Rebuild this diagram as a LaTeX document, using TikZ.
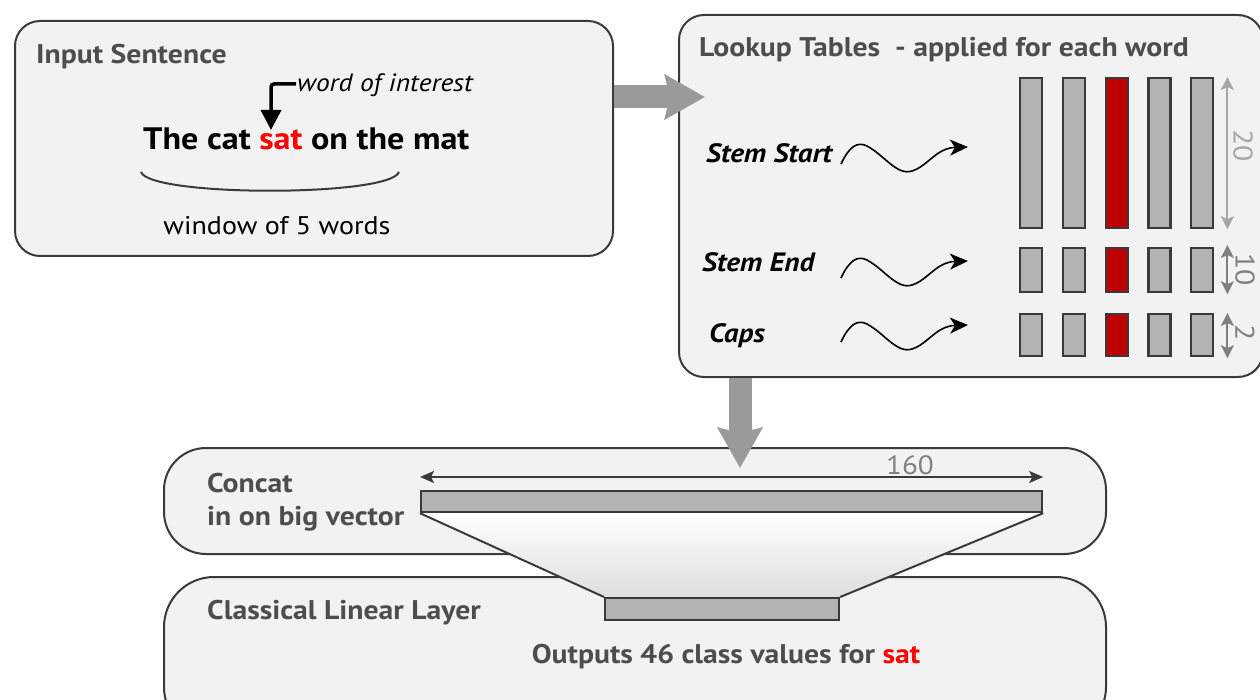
\documentclass[tikz,border=0pt]{standalone}
\usepackage{fontspec}
\setmainfont{PT Sans}[FakeStretch=1.1]
\usetikzlibrary{arrows.meta,calc}
\definecolor{panelfill}{HTML}{F2F2F2}
\definecolor{edge}{HTML}{3A3A3A}
\definecolor{headgray}{HTML}{4D4D4D}
\definecolor{barfill}{HTML}{B3B3B3}
\definecolor{barred}{HTML}{C00000}
\definecolor{hot}{HTML}{FF0000}
\definecolor{flow}{HTML}{9A9A9A}
\definecolor{dimlight}{HTML}{A6A6A6}
\definecolor{dimdark}{HTML}{808080}
\newcommand{\fs}[1]{\fontsize{#1}{#1}\selectfont}
\begin{document}
\begin{tikzpicture}[x=1pt,y=-1pt,
  panel/.style={draw=edge, line width=2pt, fill=panelfill, rounded corners=#1, inner sep=0pt, anchor=north west},
  panel/.default=25pt,
  heading/.style={text=headgray, font=\fs{27}\bfseries, anchor=base west, inner sep=0pt},
  rowlabel/.style={font=\fs{26.5}\bfseries\itshape, anchor=base west, inner sep=0pt},
  bar/.style={draw=edge, line width=2.2pt, fill=barfill, minimum width=22pt, inner sep=0pt, anchor=north west},
  fat/.style={draw=flow, line width=23pt, -{Stealth[length=40pt,width=44pt,inset=5pt]}},
  squig/.style={line width=1.6pt, -{Stealth[length=18pt,width=16pt,inset=5pt]}},
  dimline/.style={line width=2pt, {Stealth[length=13pt,width=13pt,inset=3pt]}-{Stealth[length=13pt,width=13pt,inset=3pt]}},
  dimtext/.style={font=\fs{27}, inner sep=0pt, rotate=-90}
]
\useasboundingbox (0,0) rectangle (1260,700);
\clip (0,0) rectangle (1260,700);

% ---------- input sentence panel ----------
\node[panel, minimum width=598pt, minimum height=235pt] (inp) at (14,20) {};
\node[heading] (inptitle) at (36,64) {Input Sentence};
\node[font=\fs{31}\bfseries, anchor=base west, inner sep=0pt] (sent) at (143,150)
  {The cat \textcolor{hot}{sat} on the mat};
\node[font=\fs{25}\itshape, anchor=base west, inner sep=0pt] (woi) at (297,92) {word of interest};
\coordinate (woitip) at (271,130);
\draw[line width=3.5pt, rounded corners=3pt, -{Triangle[length=20pt,width=20pt]}]
  ([xshift=-1pt]woi.west |- 0,84) -- (woitip |- 0,84) -- (woitip);
\coordinate (arcl) at (141,172);
\coordinate (arcr) at (399,172);
\draw[edge, line width=2pt] (arcl) .. controls (150,197) and (390,197) .. (arcr);
\node[font=\fs{25.5}, anchor=base, inner sep=0pt] (win) at (277,235) {window of 5 words};

% ---------- lookup tables panel ----------
\node[panel, minimum width=584pt, minimum height=362pt] (lk) at (678,14) {};
\node[heading] (lktitle) at (699,57) {Lookup Tables~ - applied for each word};

\node[rowlabel] (ssl) at (706,163) {Stem Start};
\node[rowlabel] (sel) at (702,272) {Stem End};
\node[rowlabel] (cpl) at (709,342) {Caps};

% wavy arrows, one per table
\foreach \dy/\nm in {0/sq1, 114/sq2, 178/sq3}{
  \coordinate (\nm a) at (841,164+\dy);
  \coordinate (\nm b) at (968,147+\dy);
  \draw[squig] (\nm a) .. controls (849,147+\dy) and (857,141+\dy) .. (867,146+\dy)
     .. controls (884,155+\dy) and (897,176+\dy) .. (912,171+\dy)
     .. controls (928,166+\dy) and (936,148+\dy) .. (\nm b);
}

% table rows: five word slots each, the centre word highlighted
\foreach \i in {0,...,4}{
  \pgfmathsetmacro{\bx}{1019+42.8*\i}
  \ifnum\i=2 \def\bc{barred}\else\def\bc{barfill}\fi
  \node[bar, fill=\bc, minimum height=150pt] (ss\i) at (\bx,77) {};
  \node[bar, fill=\bc, minimum height=44pt] (se\i) at (\bx,247) {};
  \node[bar, fill=\bc, minimum height=42pt] (cp\i) at (\bx,313) {};
}

\draw[dimline, draw=dimlight, fill=dimlight] ([xshift=13pt]ss4.north east) -- ([xshift=13pt]ss4.south east);
\draw[dimline, draw=dimdark, fill=dimdark] ([xshift=13pt,yshift=2pt]se4.north east) -- ([xshift=13pt,yshift=-1pt]se4.south east);
\draw[dimline, draw=dimdark, fill=dimdark] ([xshift=13pt]cp4.north east) -- ([xshift=13pt,yshift=-1pt]cp4.south east);
\node[dimtext, text=dimlight] (d20) at (1243,146) {20};
\node[dimtext, text=dimdark] (d10) at (1245,270) {10};
\node[dimtext, text=dimdark] (d2) at (1245,333) {2};

% ---------- concat and linear layer panels ----------
\node[panel=42pt, minimum width=942pt, minimum height=106pt] (cat) at (163,447) {};
\node[panel=50pt, minimum width=942pt, minimum height=160pt] (lin) at (163,576) {};
\node[heading] (cattitle) at (207,492) {Concat};
\node[heading] (cattitle2) at (207,525) {in on big vector};
\node[heading] (lintitle) at (207,619) {Classical Linear Layer};
\node[heading, anchor=base] (outtxt) at (726,663) {Outputs 46 class values for \textcolor{hot}{sat}};

% projection from the long vector to the output vector
\node[bar, minimum width=621pt, minimum height=21pt] (bigvec) at (420,490) {};
\node[bar, minimum width=234pt, minimum height=22pt] (outvec) at (604,597) {};
\shade[top color=white, bottom color=black!13]
  (bigvec.south west) -- (bigvec.south east) -- (outvec.north east) -- (outvec.north west) -- cycle;
\draw[edge, line width=2pt] (bigvec.south west) -- (outvec.north west);
\draw[edge, line width=2pt] (bigvec.south east) -- (outvec.north east);
\node[bar, minimum width=621pt, minimum height=21pt] at (420,490) {};
\node[bar, minimum width=234pt, minimum height=22pt] at (604,597) {};

\draw[edge, line width=2pt, {Stealth[length=14pt,width=12pt,inset=3pt]}-{Stealth[length=14pt,width=12pt,inset=3pt]}]
  ([yshift=13pt]bigvec.north west) -- ([yshift=13pt]bigvec.north east);
\node[font=\fs{26.5}, text=dimdark, anchor=base, inner sep=0pt] (len) at (910,474) {160};

% ---------- flow arrows ----------
\coordinate (t1) at (705,97);
\draw[fat] (inp.east |- t1) -- (t1);
\coordinate (t2) at (740,468);
\draw[fat] (lk.south -| t2) -- (t2);
\end{tikzpicture}
\end{document}
